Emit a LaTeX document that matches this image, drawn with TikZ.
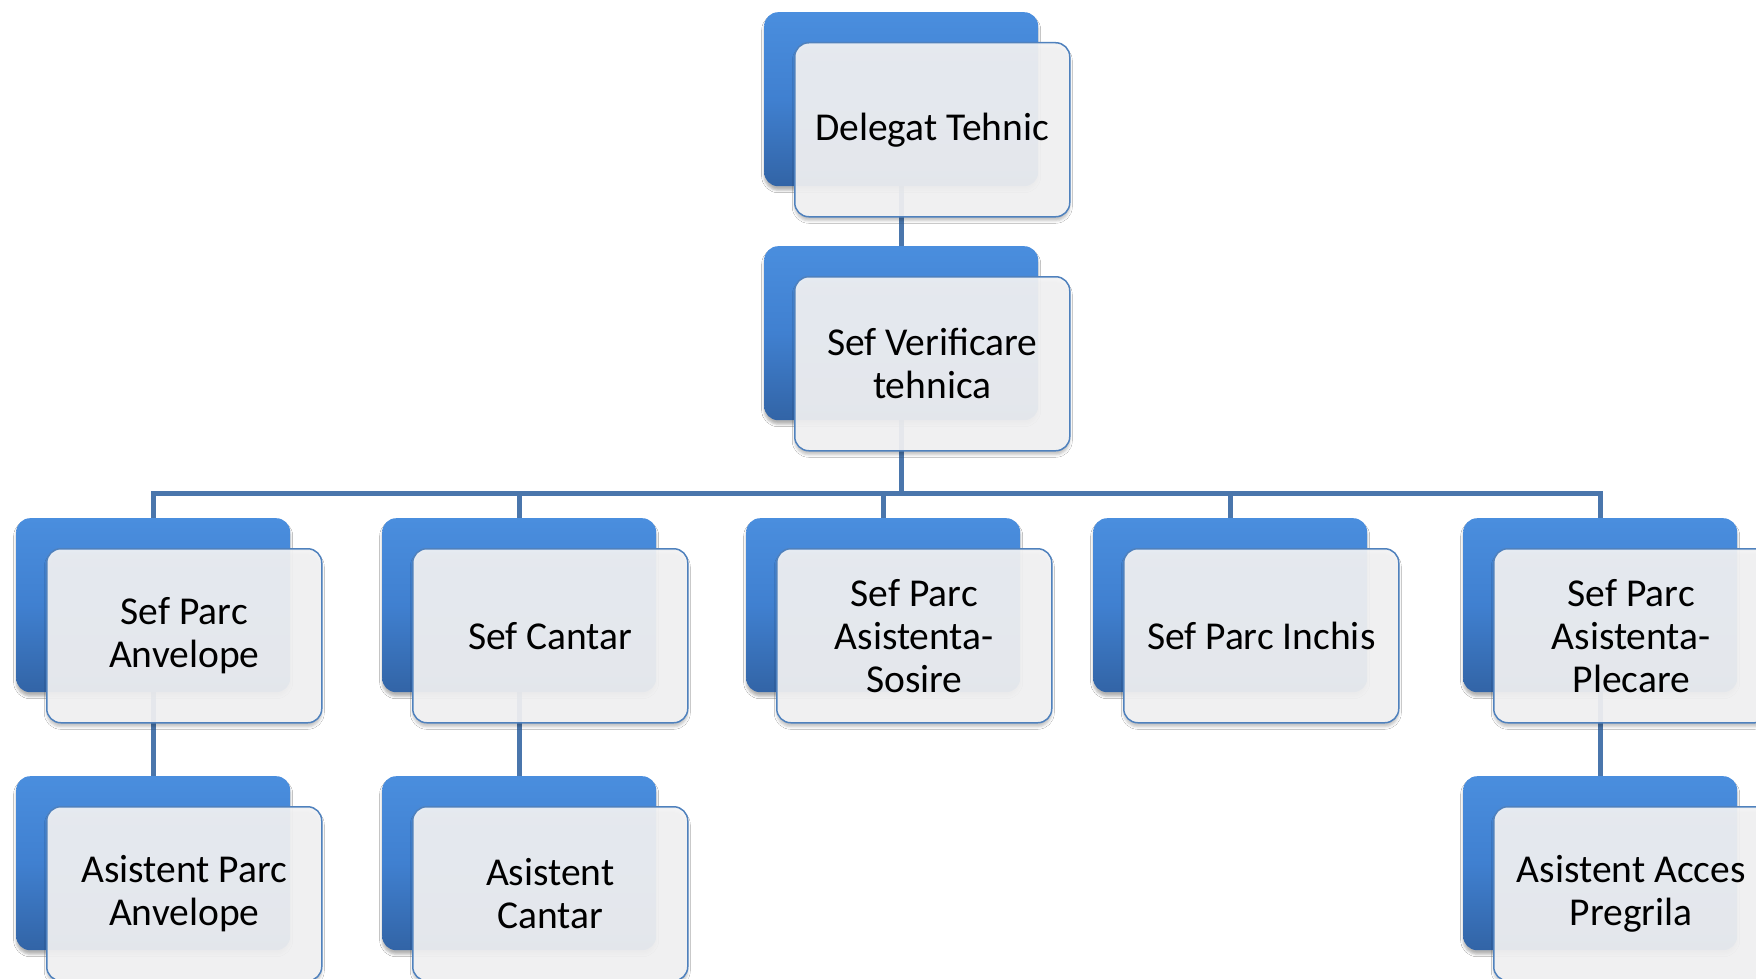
\documentclass[tikz,border=0pt]{standalone}
\usepackage{fontspec}
\setmainfont{Carlito}
\usetikzlibrary{shadows.blur}
\pgfdeclarelayer{bg}
\pgfsetlayers{bg,main}
\definecolor{linkblue}{RGB}{74,118,172}
\definecolor{boxtop}{RGB}{74,142,222}
\definecolor{boxmid}{RGB}{64,128,208}
\definecolor{boxbot}{RGB}{50,100,166}
\definecolor{frontfill}{RGB}{244,244,245}
\definecolor{frontedge}{RGB}{79,129,189}
\newcommand{\orgbox}[4]{%
  \node[backbox] (#1b) at (#2,#3) {};
  \node[frontbox] (#1) at ({#2+30},{#3+30}) {#4};}
\begin{document}
\begin{tikzpicture}[x=1pt,y=-1pt,
  backbox/.style={anchor=north west, minimum width=274pt, minimum height=174pt,
    inner sep=0pt, rounded corners=14pt, top color=boxtop, bottom color=boxbot,
    middle color=boxmid, draw=none,
    blur shadow={shadow xshift=0pt, shadow yshift=-4pt, shadow blur radius=2.5pt, shadow opacity=30}},
  frontbox/.style={anchor=north west, minimum width=275pt, minimum height=174pt,
    inner sep=0pt, rounded corners=14pt, fill=frontfill, fill opacity=0.92,
    text opacity=1, draw=frontedge, draw opacity=1, line width=1.5pt, align=center,
    font=\fontsize{39.5}{43}\selectfont,
    blur shadow={shadow xshift=0pt, shadow yshift=-4pt, shadow blur radius=2.5pt, shadow opacity=25}},
  link/.style={draw=linkblue, line width=5pt}]
\useasboundingbox (0,0) rectangle (1756,979);
\orgbox{dt}{764}{12}{Delegat Tehnic}
\orgbox{svt}{764}{246}{Sef Verificare\\tehnica}
\orgbox{c1}{16}{518}{Sef Parc\\Anvelope}
\orgbox{c2}{382}{518}{Sef Cantar}
\orgbox{c3}{746}{518}{Sef Parc\\Asistenta-\\Sosire}
\orgbox{c4}{1093}{518}{Sef Parc Inchis}
\orgbox{c5}{1463}{518}{Sef Parc\\Asistenta-\\Plecare}
\orgbox{d1}{16}{776}{Asistent Parc\\Anvelope}
\orgbox{d2}{382}{776}{Asistent\\Cantar}
\orgbox{d5}{1463}{776}{Asistent Acces\\Pregrila}
\coordinate (busy) at (0,493);
\begin{pgfonlayer}{bg}
  \fill[white] (0,0) rectangle (1756,979);
  \draw[link] (dtb.center) -- (svtb.center);
  \foreach \c in {c1,c2,c3,c4,c5}
    \draw[link] (svtb.center) -- (svtb.center |- busy) -| (\c b.center);
  \draw[link] (c1b.center) -- (d1b.center);
  \draw[link] (c2b.center) -- (d2b.center);
  \draw[link] (c5b.center) -- (d5b.center);
\end{pgfonlayer}
\end{tikzpicture}
\end{document}
